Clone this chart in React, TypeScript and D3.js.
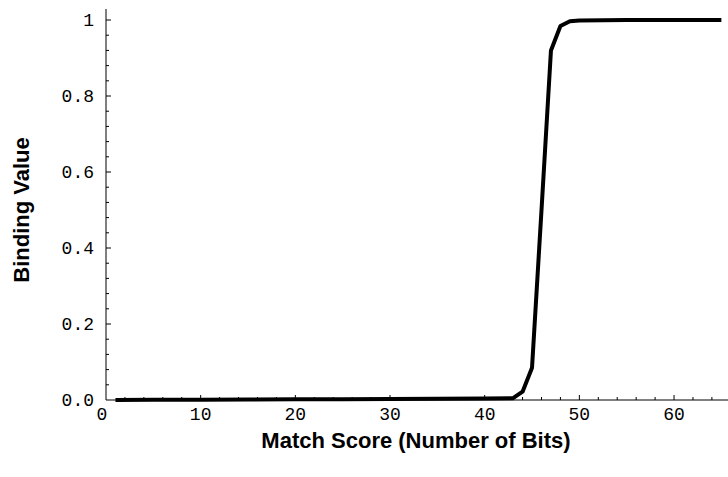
import React, { useEffect, useRef } from 'react';
import * as d3 from 'd3';

// match score (bits) and binding value
const scores = [1, 5, 10, 15, 20, 25, 30, 35, 40, 43, 44, 45, 46, 47, 48, 49, 50, 55, 60, 65];
const binding = [0.0003, 0.0005, 0.0008, 0.0012, 0.0017, 0.0022, 0.0028, 0.0034, 0.0042, 0.0048,
  0.022, 0.085, 0.5, 0.92, 0.984, 0.997, 0.999, 1, 1, 1];

const xTicks = [0, 10, 20, 30, 40, 50, 60];
const yTicks = [0, 0.2, 0.4, 0.6, 0.8, 1];
const yTickLabels = ['0.0', '0.2', '0.4', '0.6', '0.8', '1'];

const xTitle = 'Match Score (Number of Bits)';
const yTitle = 'Binding Value';

export default function App() {
  const ref = useRef<SVGSVGElement>(null);

  useEffect(() => {
    const width = 728;
    const height = 477;
    const svg = d3.select(ref.current);
    svg.selectAll('*').remove();

    const x = d3.scaleLinear().domain([0, 65.7]).range([106, 728]);
    const y = d3.scaleLinear().domain([0, 1.029]).range([400, 9]);

    const tickFont = '"Liberation Mono", "DejaVu Sans Mono", monospace';
    const titleFont = '"Liberation Sans", Arial, sans-serif';

    // axes lines
    svg.append('line')
      .attr('x1', x(0)).attr('x2', x(65.7))
      .attr('y1', y(0)).attr('y2', y(0))
      .attr('stroke', '#000').attr('stroke-width', 1);
    svg.append('line')
      .attr('x1', x(0)).attr('x2', x(0))
      .attr('y1', y(0)).attr('y2', y(1.029))
      .attr('stroke', '#000').attr('stroke-width', 1);

    // x ticks, minor every 2
    const xMinor = d3.range(2, 66, 2).filter(v => v % 10 !== 0);
    svg.selectAll('.xminor').data(xMinor).enter().append('line')
      .attr('x1', d => x(d)).attr('x2', d => x(d))
      .attr('y1', y(0)).attr('y2', y(0) - 3)
      .attr('stroke', '#000');
    svg.selectAll('.xmajor').data(xTicks.slice(1)).enter().append('line')
      .attr('x1', d => x(d)).attr('x2', d => x(d))
      .attr('y1', y(0)).attr('y2', y(0) - 5)
      .attr('stroke', '#000');
    svg.selectAll('.xlab').data(xTicks).enter().append('text')
      .attr('x', d => x(d) - (d === 0 ? 4 : 0))
      .attr('y', y(0) + 20)
      .attr('text-anchor', 'middle')
      .attr('font-family', tickFont)
      .attr('font-size', 18)
      .text(d => d);

    // y ticks, minor every 0.04
    const yMinor = d3.range(0.04, 1.02, 0.04).filter(v => Math.abs(v * 5 - Math.round(v * 5)) > 0.01);
    svg.selectAll('.yminor').data(yMinor).enter().append('line')
      .attr('x1', x(0)).attr('x2', x(0) + 3)
      .attr('y1', d => y(d)).attr('y2', d => y(d))
      .attr('stroke', '#000');
    svg.selectAll('.ymajor').data(yTicks.slice(1)).enter().append('line')
      .attr('x1', x(0)).attr('x2', x(0) + 5)
      .attr('y1', d => y(d)).attr('y2', d => y(d))
      .attr('stroke', '#000');
    svg.selectAll('.ylab').data(yTicks).enter().append('text')
      .attr('x', x(0) - 12)
      .attr('y', d => y(d) + 6)
      .attr('text-anchor', 'end')
      .attr('font-family', tickFont)
      .attr('font-size', 18)
      .text((d, i) => yTickLabels[i]);

    // the curve
    const line = d3.line<number>()
      .x((d, i) => x(scores[i]))
      .y(d => y(d));
    svg.append('path')
      .attr('d', line(binding))
      .attr('fill', 'none')
      .attr('stroke', '#000')
      .attr('stroke-width', 4)
      .attr('stroke-linejoin', 'round');

    // titles
    svg.append('text')
      .attr('x', 416).attr('y', 448)
      .attr('text-anchor', 'middle')
      .attr('font-family', titleFont)
      .attr('font-weight', 'bold')
      .attr('font-size', 22)
      .text(xTitle);
    svg.append('text')
      .attr('transform', `translate(29,210) rotate(-90)`)
      .attr('text-anchor', 'middle')
      .attr('font-family', titleFont)
      .attr('font-weight', 'bold')
      .attr('font-size', 22)
      .text(yTitle);

    svg.attr('width', width).attr('height', height);
  }, []);

  return (
    <svg ref={ref} width={728} height={477}
      style={{ position: 'absolute', left: 0, top: 0, background: '#fff' }} />
  );
}
